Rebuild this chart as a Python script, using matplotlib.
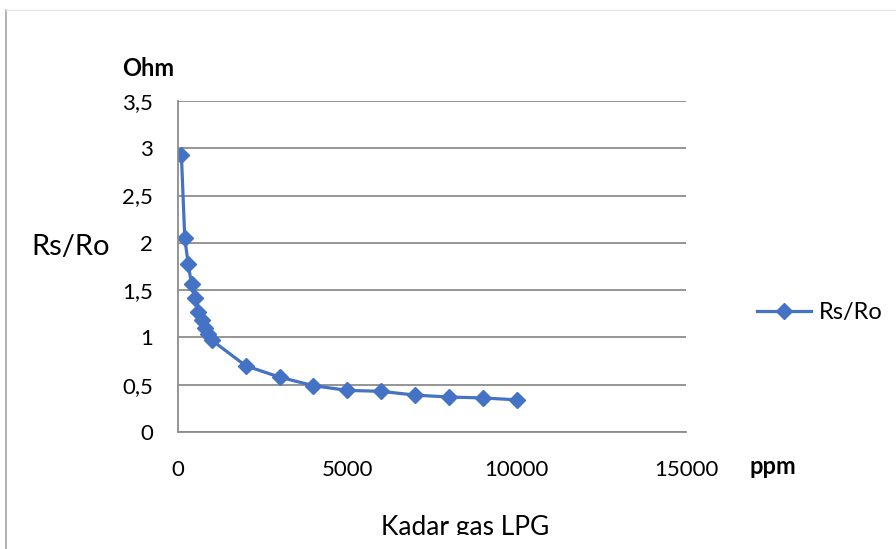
import matplotlib
matplotlib.use("Agg")
import matplotlib.pyplot as plt
from matplotlib.lines import Line2D
from matplotlib.patches import Rectangle
from matplotlib.ticker import FuncFormatter

ppm = [100, 200, 300, 400, 500, 600, 700, 800, 900, 1000,
       2000, 3000, 4000, 5000, 6000, 7000, 8000, 9000, 10000]
rs_ro = [2.93, 2.05, 1.78, 1.56, 1.42, 1.27, 1.18, 1.10, 1.04, 0.97,
         0.70, 0.58, 0.49, 0.44, 0.43, 0.39, 0.37, 0.36, 0.34]
x_ticks = [0, 5000, 10000, 15000]
y_ticks = [0, 0.5, 1, 1.5, 2, 2.5, 3, 3.5]

plt.rcParams['font.family'] = ['Lato', 'DejaVu Sans']

fig = plt.figure(figsize=(8.96, 5.49), dpi=100)
ax = fig.add_axes([178/896, 1-432/549, (686-178)/896, (432-101)/549])

color = '#4472C4'
ax.plot(ppm, rs_ro, color=color, lw=2.3, marker='D', ms=8.5, label='Rs/Ro')

ax.set_xlim(0, 15000)
ax.set_ylim(0, 3.5)
ax.set_xticks(x_ticks)
ax.set_yticks(y_ticks)
ax.yaxis.set_major_formatter(FuncFormatter(lambda v, p: ('%g' % v).replace('.', ',')))
ax.xaxis.set_major_formatter(FuncFormatter(lambda v, p: '%d' % v))
ax.grid(axis='y', color='#8c8c8c', lw=1.3)
ax.set_axisbelow(True)
for s in ['top', 'right']:
    ax.spines[s].set_visible(False)
for s in ['left', 'bottom']:
    ax.spines[s].set_color('#8c8c8c')
    ax.spines[s].set_linewidth(1.3)
ax.tick_params(length=0, labelsize=16, colors='#000000')
ax.tick_params(axis='y', pad=18)
ax.tick_params(axis='x', pad=20)

fig.text(148/896, 1-68/549, 'Ohm', fontsize=17, fontweight='bold', ha='center', va='center')
fig.text(773/896, 1-466/549, 'ppm', fontsize=17, fontweight='bold', ha='center', va='center')
fig.text(71/896, 1-247/549, 'Rs/Ro', fontsize=21, ha='center', va='center')
fig.text(465/896, 1-535/549, 'Kadar gas LPG', fontsize=19, ha='center', va='baseline')

ax.legend(loc='center left', bbox_to_anchor=(757/896, 1-313/549), bbox_transform=fig.transFigure,
          frameon=False, fontsize=17, handlelength=2.3, handletextpad=0.3,
          borderpad=0, borderaxespad=0)

fig.add_artist(Rectangle((8/896, 0), 1, (549-535)/549, transform=fig.transFigure,
                         facecolor='white', edgecolor='none', zorder=20))
fig.add_artist(Line2D([6/896, 6/896], [0, 1-10/549], transform=fig.transFigure,
                      color='#a6a6a6', lw=1.2, zorder=21))
fig.add_artist(Line2D([6/896, 1], [1-10/549, 1-10/549], transform=fig.transFigure,
                      color='#e6e6e6', lw=1, zorder=21))

fig.savefig('out.png', dpi=100)
